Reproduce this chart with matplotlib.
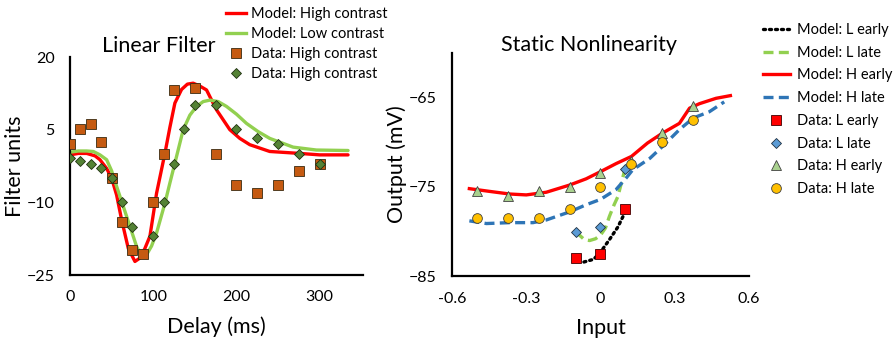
import matplotlib
matplotlib.use("Agg")
import matplotlib.pyplot as plt
from matplotlib.lines import Line2D

plt.rcParams['font.family'] = ['Lato', 'DejaVu Sans']

# ---------------- Left panel: Linear Filter ----------------
model_hi_delay = [0, 10, 20, 30, 36, 44, 50, 56, 62, 70, 78, 84, 90, 96, 104, 114, 120, 126, 134, 141, 148, 156, 164, 176, 192, 204, 216, 240, 276, 300, 334]
model_hi_val = [-0.2, 0.1, 0.1, -0.4, -1.2, -3.0, -5.0, -8.5, -13.6, -19.5, -22.2, -21.5, -19.5, -17.0, -8.1, 0.1, 5.5, 10.5, 13.3, 14.4, 14.6, 14.0, 13.2, 9.1, 5.0, 3.2, 1.9, 0.5, 0.1, -0.2, -0.2]

model_lo_delay = [0, 10, 20, 28, 36, 44, 50, 56, 62, 68, 74, 80, 86, 92, 98, 104, 114, 120, 126, 136, 144, 152, 160, 168, 178, 188, 200, 212, 226, 240, 268, 296, 334]
model_lo_val = [0.35, 0.6, 0.6, 0.5, -0.2, -1.2, -3.5, -6.7, -9.8, -12.9, -16.0, -19.1, -21.2, -20.8, -19.0, -16.3, -10.2, -6.0, -1.9, 5.0, 8.0, 9.8, 10.8, 11.1, 10.8, 9.8, 8.2, 6.3, 4.6, 3.2, 1.4, 0.8, 0.7]

data_hi_delay = [0, 12.5, 25, 37.5, 50, 62.5, 75, 87.5, 100, 112.5, 125, 150, 175, 200, 225, 250, 275, 300]
data_hi_val = [2.1, 5.1, 6.1, 2.5, -5.0, -14.0, -19.9, -20.6, -10.0, 0.0, 13.1, 13.7, 0.0, -6.5, -8.0, -6.5, -3.5, -2.0]
data_lo_delay = [0, 12.5, 25, 37.5, 50, 62.5, 75, 100, 112.5, 125, 137.5, 150, 175, 200, 225, 250, 275, 300]
data_lo_val = [-0.8, -1.4, -2.0, -3.0, -5.0, -10.0, -15.0, -17.0, -10.0, -2.0, 5.1, 10.1, 10.1, 5.1, 3.2, 2.1, 0.0, -2.0]

left_yticks = [-25, -10, 5, 20]
left_xticks = [0, 100, 200, 300]

# ---------------- Right panel: Static Nonlinearity ----------------
L_early_model_x = [-0.067, -0.028, 0.0, 0.036, 0.07, 0.1]
L_early_model_y = [-83.4, -83.1, -82.3, -80.9, -79.5, -77.8]

L_late_model_x = [-0.1, -0.085, -0.065, -0.044, -0.02, 0.0, 0.02, 0.036, 0.055, 0.07, 0.085, 0.1]
L_late_model_y = [-80.0, -80.4, -80.9, -81.0, -80.8, -80.4, -79.6, -78.3, -77.0, -76.1, -74.5, -72.9]

H_early_model_x = [-0.53, -0.45, -0.367, -0.3, -0.219, -0.125, -0.058, 0.0, 0.063, 0.125, 0.19, 0.25, 0.319, 0.36, 0.4, 0.467, 0.525]
H_early_model_y = [-75.2, -75.5, -75.8, -75.9, -75.6, -74.8, -74.1, -73.3, -72.4, -71.6, -70.1, -69.0, -67.9, -66.2, -65.7, -65.1, -64.8]

H_late_model_x = [-0.53, -0.461, -0.367, -0.273, -0.219, -0.125, -0.058, 0.0, 0.063, 0.104, 0.13, 0.2, 0.25, 0.319, 0.375, 0.44, 0.5]
H_late_model_y = [-78.8, -79.1, -79.0, -79.0, -78.7, -77.8, -77.0, -76.4, -75.3, -74.0, -73.1, -71.8, -70.5, -68.6, -67.3, -66.6, -65.5]

L_early_x = [-0.1, 0.0, 0.1]
L_early_y = [-83.0, -82.5, -77.5]
L_late_x = [-0.1, 0.0, 0.1]
L_late_y = [-80.0, -79.5, -73.0]
H_x = [-0.5, -0.375, -0.25, -0.125, 0.0, 0.125, 0.25, 0.375]
H_early_y = [-75.5, -76.0, -75.5, -75.0, -73.5, -72.1, -69.0, -66.0]
H_late_y = [-78.5, -78.5, -78.5, -77.5, -75.0, -72.5, -70.0, -67.5]

right_yticks = [-85, -75, -65]
right_xticks = [-0.6, -0.3, 0, 0.3, 0.6]
right_xticklabels = ['-0.6', '-0.3', '0', '0.3', '0.6']

# colours
RED = '#FF0000'
LGREEN = '#92D050'
ORANGE = '#C55A11'
DGREEN = '#548235'
BLUE = '#2E75B6'
LBLUE = '#5B9BD5'
TRI = '#A9D18E'
YEL = '#FFC000'
DASH = (0, (3.0, 1.6))
DOT = (0, (0.6, 1.2))

fig = plt.figure(figsize=(8.93, 3.41), dpi=100)
axL = fig.add_axes([0.0784, 0.1935, 0.3281, 0.6393])
axR = fig.add_axes([0.5062, 0.1897, 0.3325, 0.6558])

TICKFS = 11.5
for ax in (axL, axR):
    for s in ('top', 'right'):
        ax.spines[s].set_visible(False)
    for s in ('left', 'bottom'):
        ax.spines[s].set_linewidth(1.6)
        ax.spines[s].set_color('black')
    ax.tick_params(length=0, labelsize=TICKFS, pad=11)
    ax.set_facecolor('none')

# Left
axL.plot(model_hi_delay, model_hi_val, color=RED, lw=2.4, solid_capstyle='round', zorder=2)
axL.plot(model_lo_delay, model_lo_val, color=LGREEN, lw=2.4, solid_capstyle='round', zorder=2)
axL.plot(data_hi_delay, data_hi_val, ls='none', marker='s', ms=6.5, mfc=ORANGE, mec='#3a2a10', mew=0.6, zorder=3)
axL.plot(data_lo_delay, data_lo_val, ls='none', marker='D', ms=5.5, mfc=DGREEN, mec='#1f3010', mew=0.6, zorder=4)
axL.set_xlim(0, 352)
axL.set_ylim(-25, 20)
axL.set_xticks(left_xticks)
axL.set_yticks(left_yticks)
axL.set_xlabel('Delay (ms)', fontsize=15.5, labelpad=9)
axL.set_ylabel('Filter units', fontsize=15.5, va='center')
axL.yaxis.set_label_coords(-0.188, 0.5)
fig.text(0.178, 0.865, 'Linear Filter', fontsize=15.5, ha='center', va='center')

LEGFS = 10.5
legL = [
    Line2D([], [], color=RED, lw=2.4),
    Line2D([], [], color=LGREEN, lw=2.4),
    Line2D([], [], ls='none', marker='s', ms=6.5, mfc=ORANGE, mec='#3a2a10', mew=0.6),
    Line2D([], [], ls='none', marker='D', ms=5.5, mfc=DGREEN, mec='#1f3010', mew=0.6),
]
fig.legend(legL, ['Model: High contrast', 'Model: Low contrast', 'Data: High contrast', 'Data: High contrast'],
           loc='upper left', bbox_to_anchor=(0.252, 0.982), frameon=False, fontsize=LEGFS,
           handlelength=1.4, handletextpad=0.35, labelspacing=0.41, borderpad=0.05, borderaxespad=0)

# Right
axR.plot(L_early_model_x, L_early_model_y, color='black', lw=2.4, ls=DOT, dash_capstyle='round', zorder=2)
axR.plot(L_late_model_x, L_late_model_y, color=LGREEN, lw=2.4, ls=DASH, zorder=2)
axR.plot(H_early_model_x, H_early_model_y, color=RED, lw=2.4, zorder=2)
axR.plot(H_late_model_x, H_late_model_y, color=BLUE, lw=2.4, ls=DASH, zorder=2)
axR.plot(L_early_x, L_early_y, ls='none', marker='s', ms=6.5, mfc=RED, mec='#400000', mew=0.6, zorder=3)
axR.plot(L_late_x, L_late_y, ls='none', marker='D', ms=5.5, mfc=LBLUE, mec='#203040', mew=0.6, zorder=3)
axR.plot(H_x, H_early_y, ls='none', marker='^', ms=7.5, mfc=TRI, mec='#404040', mew=0.6, zorder=3)
axR.plot(H_x, H_late_y, ls='none', marker='o', ms=7, mfc=YEL, mec='#404040', mew=0.6, zorder=3)
axR.set_xlim(-0.6, 0.6)
axR.set_ylim(-85, -60)
axR.set_xticks(right_xticks)
axR.set_xticklabels(right_xticklabels)
axR.set_yticks(right_yticks)
axR.set_xlabel('Input', fontsize=15.5, labelpad=9)
axR.set_ylabel('Output (mV)', fontsize=15.5, va='center')
axR.yaxis.set_label_coords(-0.185, 0.5)
fig.text(0.66, 0.868, 'Static Nonlinearity', fontsize=15.5, ha='center', va='center')

legR = [
    Line2D([], [], color='black', lw=2.4, ls=DOT, dash_capstyle='round'),
    Line2D([], [], color=LGREEN, lw=2.4, ls=DASH),
    Line2D([], [], color=RED, lw=2.4),
    Line2D([], [], color=BLUE, lw=2.4, ls=DASH),
    Line2D([], [], ls='none', marker='s', ms=6.5, mfc=RED, mec='#400000', mew=0.6),
    Line2D([], [], ls='none', marker='D', ms=5.5, mfc=LBLUE, mec='#203040', mew=0.6),
    Line2D([], [], ls='none', marker='^', ms=7.5, mfc=TRI, mec='#404040', mew=0.6),
    Line2D([], [], ls='none', marker='o', ms=7, mfc=YEL, mec='#404040', mew=0.6),
]
fig.legend(legR, ['Model: L early', 'Model: L late', 'Model: H early', 'Model: H late',
                  'Data: L early', 'Data: L late', 'Data: H early', 'Data: H late'],
           loc='upper left', bbox_to_anchor=(0.854, 0.935), frameon=False, fontsize=LEGFS,
           handlelength=1.8, handletextpad=0.5, labelspacing=0.6, borderpad=0.05, borderaxespad=0)

fig.savefig('out.png', dpi=100)
